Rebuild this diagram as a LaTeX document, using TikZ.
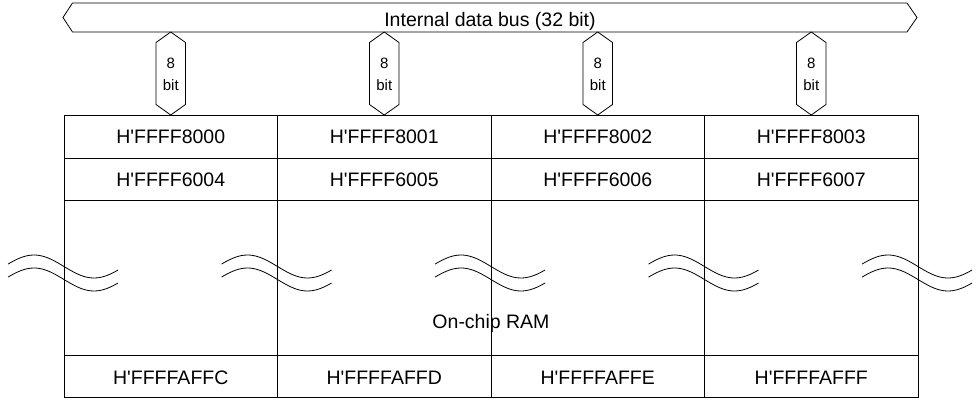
\documentclass[tikz,border=0pt]{standalone}
\usepackage{fontspec}
\setmainfont{Liberation Sans}
\begin{document}
\begin{tikzpicture}[x=1pt, y=-1pt, line width=0.8pt,
  addr/.style={font=\fontsize{19.5}{22}\selectfont, inner sep=0pt, anchor=base},
  bitlbl/.style={font=\fontsize{15}{16}\selectfont, inner sep=0pt, anchor=base},
  wave/.style={line width=0.8pt, smooth, samples=40, domain=-56:54}]
  \useasboundingbox (0,0) rectangle (979,399);
  % 내부 버스
  \draw (72.5,3) -- (907,3) -- (917,17.5) -- (907,32) -- (72.5,32) -- (63,17.5) -- cycle;
  \node[addr] (bus) at (490,26) {Internal data bus (32 bit)};
  % 8 bit 연결
  \draw (170.75,32) -- (185.5,42.5) -- (185.5,104.5) -- (170.75,115) -- (156,104.5) -- (156,42.5) -- cycle;
  \draw (384.25,32) -- (399,42.5) -- (399,104.5) -- (384.25,115) -- (369.5,104.5) -- (369.5,42.5) -- cycle;
  \draw (597.75,32) -- (612.5,42.5) -- (612.5,104.5) -- (597.75,115) -- (583,104.5) -- (583,42.5) -- cycle;
  \draw (811.25,32) -- (826,42.5) -- (826,104.5) -- (811.25,115) -- (796.5,104.5) -- (796.5,42.5) -- cycle;
  \node[bitlbl] (n0) at (170.75,68) {8};   \node[bitlbl] (b0) at (170.75,90) {bit};
  \node[bitlbl] (n1) at (384.25,68) {8};   \node[bitlbl] (b1) at (384.25,90) {bit};
  \node[bitlbl] (n2) at (597.75,68) {8};   \node[bitlbl] (b2) at (597.75,90) {bit};
  \node[bitlbl] (n3) at (811.25,68) {8};   \node[bitlbl] (b3) at (811.25,90) {bit};
  % RAM 표
  \draw (64,115) rectangle (918,397);
  \draw (64,158) -- (918,158);
  \draw (64,200) -- (918,200);
  \draw (64,355) -- (918,355);
  \draw (277.5,115) -- (277.5,397);
  \draw (491,115) -- (491,397);
  \draw (704.5,115) -- (704.5,397);
  % 생략 표시
  \draw[wave] plot ({64+\x},{266.5+11.5*sin(3*\x)});
  \draw[wave] plot ({64+\x},{279.5+11.5*sin(3*\x)});
  \draw[wave] plot ({277.5+\x},{266.5+11.5*sin(3*\x)});
  \draw[wave] plot ({277.5+\x},{279.5+11.5*sin(3*\x)});
  \draw[wave] plot ({491+\x},{266.5+11.5*sin(3*\x)});
  \draw[wave] plot ({491+\x},{279.5+11.5*sin(3*\x)});
  \draw[wave] plot ({704.5+\x},{266.5+11.5*sin(3*\x)});
  \draw[wave] plot ({704.5+\x},{279.5+11.5*sin(3*\x)});
  \draw[wave] plot ({918+\x},{266.5+11.5*sin(3*\x)});
  \draw[wave] plot ({918+\x},{279.5+11.5*sin(3*\x)});
  % 주소
  \node[addr] (a8000) at (170.75,143.3) {H\textquotesingle FFFF8000};
  \node[addr] (a8001) at (384.25,143.3) {H\textquotesingle FFFF8001};
  \node[addr] (a8002) at (597.75,143.3) {H\textquotesingle FFFF8002};
  \node[addr] (a8003) at (811.25,143.3) {H\textquotesingle FFFF8003};
  \node[addr] (a6004) at (170.75,186.5) {H\textquotesingle FFFF6004};
  \node[addr] (a6005) at (384.25,186.5) {H\textquotesingle FFFF6005};
  \node[addr] (a6006) at (597.75,186.5) {H\textquotesingle FFFF6006};
  \node[addr] (a6007) at (811.25,186.5) {H\textquotesingle FFFF6007};
  \node[addr] (ram) at (491,328) {On-chip RAM};
  \node[addr] (affc) at (170.75,384) {H\textquotesingle FFFFAFFC};
  \node[addr] (affd) at (384.25,384) {H\textquotesingle FFFFAFFD};
  \node[addr] (affe) at (597.75,384) {H\textquotesingle FFFFAFFE};
  \node[addr] (afff) at (811.25,384) {H\textquotesingle FFFFAFFF};
\end{tikzpicture}
\end{document}
